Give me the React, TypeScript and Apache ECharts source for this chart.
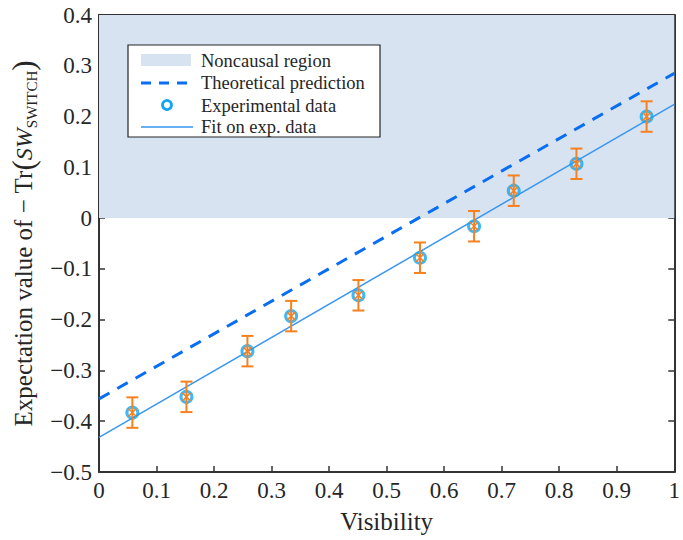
import React, { useEffect, useRef } from "react";
import * as echarts from "echarts";

const visibility = [0.058, 0.152, 0.258, 0.334, 0.451, 0.558, 0.652, 0.721, 0.83, 0.952];
const expValues = [-0.383, -0.352, -0.262, -0.193, -0.152, -0.078, -0.016, 0.054, 0.107, 0.2];
const expErrors = [0.03, 0.03, 0.03, 0.03, 0.03, 0.03, 0.03, 0.03, 0.03, 0.03];
const theoryLine = [[0, -0.356], [1, 0.285]];
const fitLine = [[0, -0.432], [1, 0.224]];
const noncausal = { xFrom: 0, xTo: 1, yFrom: 0, yTo: 0.4 };

const SERIF = "Liberation Serif";
const BLUE_PT = "#12a6f2";
const BLUE_DASH = "#0a6ef2";
const BLUE_FIT = "#3a96f0";
const ORANGE = "#f7801f";
const SHADE = "#d7e3f0";
const INK = "#262626";
const AXIS = "#333333";

function fmt(v: number) {
  if (Math.abs(v) < 1e-9) return "0";
  if (Math.abs(v - 1) < 1e-9) return "1";
  const s = Math.abs(v).toFixed(1);
  return v < 0 ? "\u2212" + s : s;
}

export default function App() {
  const ref = useRef<HTMLDivElement>(null);
  useEffect(() => {
    if (!ref.current) return;
    const chart = echarts.init(ref.current, undefined, { renderer: "svg" });
    const tickLabel = { formatter: fmt, fontFamily: SERIF, fontSize: 23, color: INK };
    const axisCommon = {
      type: "value" as const,
      axisLine: { show: true, onZero: false, lineStyle: { color: AXIS, width: 2 } },
      axisTick: { show: true, inside: true, length: 6, lineStyle: { color: AXIS, width: 1.5 } },
      splitLine: { show: false },
    };
    const pts = visibility.map((v, i) => [v, expValues[i]]);
    const errs = visibility.map((v, i) => [v, expValues[i], expValues[i] - expErrors[i], expValues[i] + expErrors[i]]);
    const legX = 128, legY = 45;
    const txt = (t: string, y: number) => ({
      type: "text", x: legX + 73, y: legY + y,
      style: { text: t, fontFamily: SERIF, fontSize: 18.5, fill: INK, verticalAlign: "middle", align: "left" },
      z: 101,
    });
    chart.setOption({
      animation: false,
      textStyle: { fontFamily: SERIF, color: INK },
      grid: { left: 98, right: 5, top: 15, bottom: 68 },
      xAxis: [
        {
          ...axisCommon,
          min: 0, max: 1, interval: 0.1,
          position: "bottom",
          name: "Visibility",
          nameLocation: "middle",
          nameGap: 37,
          nameTextStyle: { fontFamily: SERIF, fontSize: 25, color: INK },
          axisLabel: { ...tickLabel, margin: 7 },
        },
        {
          ...axisCommon,
          min: 0, max: 1, interval: 0.1,
          position: "top",
          axisTick: { show: false },
          axisLabel: { show: false },
        },
      ],
      yAxis: [
        {
          ...axisCommon,
          min: -0.5, max: 0.4, interval: 0.1,
          position: "left",
          name: "{a|Expectation value of \u2212 Tr}{p|(}{i|SW}{s|SWITCH}{p|)}",
          nameLocation: "middle",
          nameGap: 60,
          nameTextStyle: {
            fontFamily: SERIF, fontSize: 25, color: INK,
            rich: {
              a: { fontFamily: SERIF, fontSize: 25, color: INK },
              p: { fontFamily: SERIF, fontSize: 31, color: INK },
              i: { fontFamily: SERIF, fontSize: 24, fontStyle: "italic", color: INK },
              s: { fontFamily: SERIF, fontSize: 15, color: INK, verticalAlign: "bottom", padding: [10, 0, 0, 0] },
            },
          },
          axisLabel: { ...tickLabel, margin: 7 },
        },
        {
          ...axisCommon,
          min: -0.5, max: 0.4, interval: 0.1,
          position: "right",
          axisLabel: { show: false },
        },
      ],
      series: [
        {
          type: "line",
          name: "Noncausal region",
          data: [[0, 0], [1, 0]],
          symbol: "none",
          lineStyle: { opacity: 0 },
          z: 1,
          silent: true,
          markArea: {
            silent: true,
            itemStyle: { color: SHADE },
            data: [[{ xAxis: noncausal.xFrom, yAxis: noncausal.yFrom }, { xAxis: noncausal.xTo, yAxis: noncausal.yTo }]],
          },
        },
        {
          type: "line",
          name: "Theoretical prediction",
          data: theoryLine,
          symbol: "none",
          lineStyle: { color: BLUE_DASH, width: 3, type: [12, 9] },
          z: 2,
        },
        {
          type: "line",
          name: "Fit on exp. data",
          data: fitLine,
          symbol: "none",
          lineStyle: { color: BLUE_FIT, width: 1.5 },
          z: 2,
        },
        {
          type: "scatter",
          name: "Experimental data",
          data: pts,
          symbol: "circle",
          symbolSize: 11,
          itemStyle: { color: "rgba(255,255,255,0)", borderColor: BLUE_PT, borderWidth: 3 },
          z: 3,
        },
        {
          type: "custom",
          name: "errors",
          data: errs,
          z: 4,
          renderItem: (params: any, api: any) => {
            const x = api.value(0), y = api.value(1), lo = api.value(2), hi = api.value(3);
            const c = api.coord([x, y]);
            const pl = api.coord([x, lo]);
            const ph = api.coord([x, hi]);
            const w = 6, k = 4;
            const st = { stroke: ORANGE, lineWidth: 2 };
            return {
              type: "group",
              children: [
                { type: "line", shape: { x1: c[0], y1: pl[1], x2: c[0], y2: ph[1] }, style: st },
                { type: "line", shape: { x1: c[0] - w, y1: pl[1], x2: c[0] + w, y2: pl[1] }, style: st },
                { type: "line", shape: { x1: c[0] - w, y1: ph[1], x2: c[0] + w, y2: ph[1] }, style: st },
                { type: "line", shape: { x1: c[0] - k, y1: c[1] - k, x2: c[0] + k, y2: c[1] + k }, style: { stroke: ORANGE, lineWidth: 1.5 } },
                { type: "line", shape: { x1: c[0] - k, y1: c[1] + k, x2: c[0] + k, y2: c[1] - k }, style: { stroke: ORANGE, lineWidth: 1.5 } },
              ],
            };
          },
        },
      ],
      graphic: [
        { type: "rect", z: 100, shape: { x: legX, y: legY, width: 252, height: 92 }, style: { fill: "#ffffff", stroke: INK, lineWidth: 1.2 } },
        { type: "rect", z: 101, shape: { x: legX + 13, y: legY + 9, width: 50, height: 12 }, style: { fill: SHADE } },
        txt("Noncausal region", 16),
        { type: "line", z: 101, shape: { x1: legX + 13, y1: legY + 38, x2: legX + 65, y2: legY + 38 }, style: { stroke: BLUE_DASH, lineWidth: 3, lineDash: [10, 8] } },
        txt("Theoretical prediction", 38),
        { type: "circle", z: 101, shape: { cx: legX + 39, cy: legY + 60, r: 4.5 }, style: { fill: "#ffffff", stroke: BLUE_PT, lineWidth: 2.8 } },
        txt("Experimental data", 61),
        { type: "line", z: 101, shape: { x1: legX + 13, y1: legY + 82, x2: legX + 65, y2: legY + 82 }, style: { stroke: BLUE_FIT, lineWidth: 1.5 } },
        txt("Fit on exp. data", 82),
      ],
    });
    return () => chart.dispose();
  }, []);
  return <div ref={ref} style={{ position: "fixed", left: 0, top: 0, width: 683, height: 540, background: "#fff" }} />;
}
